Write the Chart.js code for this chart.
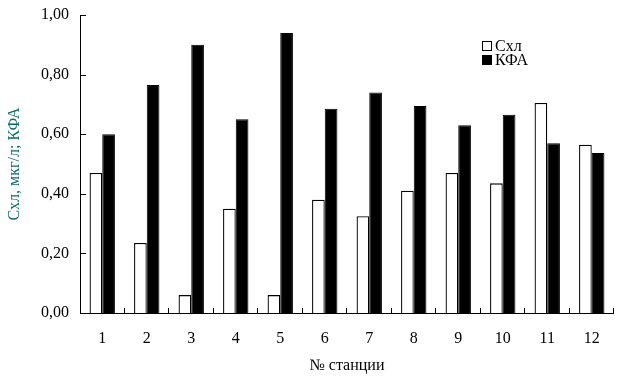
<!DOCTYPE html>
<html>
<head>
<meta charset="utf-8">
<script src="https://cdn.jsdelivr.net/npm/chart.js@4"></script>
<style>
  html, body { margin: 0; padding: 0; background: #fff; }
  #wrap { width: 621px; height: 380px; position: relative; }
</style>
</head>
<body>
<div id="wrap"><canvas id="chart" width="621" height="380"></canvas></div>
<script>
const stations = ['1', '2', '3', '4', '5', '6', '7', '8', '9', '10', '11', '12'];
const chl = [0.47, 0.235, 0.06, 0.35, 0.06, 0.38, 0.325, 0.41, 0.47, 0.435, 0.705, 0.565];
const kfa = [0.60, 0.765, 0.90, 0.65, 0.94, 0.685, 0.74, 0.695, 0.63, 0.665, 0.57, 0.537];
const yTicks = [0, 0.2, 0.4, 0.6, 0.8, 1.0];

const serif = "'Liberation Serif', 'Times New Roman', serif";

// small inward tick marks like in the original
const innerTicks = {
  id: 'innerTicks',
  afterDraw(chart) {
    const ctx = chart.ctx;
    const y = chart.scales.y;
    const area = chart.chartArea;
    ctx.save();
    ctx.strokeStyle = '#000';
    ctx.lineWidth = 1;
    ctx.beginPath();
    // axes
    ctx.moveTo(area.left + 0.5, area.top);
    ctx.lineTo(area.left + 0.5, area.bottom + 0.5);
    ctx.lineTo(area.right, area.bottom + 0.5);
    yTicks.forEach(v => {
      const py = Math.round(y.getPixelForValue(v)) + 0.5;
      ctx.moveTo(area.left, py);
      ctx.lineTo(area.left + 6, py);
    });
    const step = (area.right - area.left) / stations.length;
    for (let i = 1; i <= stations.length; i++) {
      const px = Math.round(area.left + step * i) - 0.5;
      ctx.moveTo(px, area.bottom);
      ctx.lineTo(px, area.bottom - 5);
    }
    ctx.stroke();
    ctx.restore();
  }
};

const boxLegend = {
  id: 'boxLegend',
  afterDraw(chart) {
    const ctx = chart.ctx;
    ctx.save();
    ctx.font = '16px ' + serif;
    ctx.textBaseline = 'alphabetic';
    chart.data.datasets.forEach((ds, i) => {
      const bx = 482, by = 41 + i * 14;
      ctx.fillStyle = ds.backgroundColor;
      ctx.fillRect(bx, by, 10, 10);
      ctx.strokeStyle = '#000';
      ctx.lineWidth = 1;
      ctx.strokeRect(bx + 0.5, by + 0.5, 9, 9);
      ctx.fillStyle = '#000';
      ctx.fillText(ds.label, bx + 13, by + 10);
    });
    ctx.restore();
  }
};

new Chart(document.getElementById('chart'), {
  type: 'bar',
  data: {
    labels: stations,
    datasets: [
      { label: 'Схл', data: chl, backgroundColor: '#fff', borderColor: '#000', borderWidth: 1.3 },
      { label: 'КФА', data: kfa, backgroundColor: '#000', borderColor: '#000', borderWidth: 1 }
    ]
  },
  options: {
    responsive: false,
    animation: false,
    layout: { padding: { top: 15, right: 7, left: 0, bottom: 0 } },
    datasets: { bar: { categoryPercentage: 0.57, barPercentage: 1.0 } },
    plugins: {
      legend: { display: false },
      tooltip: { enabled: false }
    },
    scales: {
      x: {
        offset: true,
        grid: { display: false },
        border: { display: false },
        ticks: { color: '#000', padding: 8, font: { family: serif, size: 16 } },
        title: { display: true, text: '№ станции', color: '#000', padding: { top: 0, bottom: 5 }, font: { family: serif, size: 16 } },
        afterFit(scale) { scale.height = 67; }
      },
      y: {
        min: 0,
        max: 1,
        grid: { display: false },
        border: { display: false },
        afterBuildTicks(scale) { scale.ticks = yTicks.map(v => ({ value: v })); },
        ticks: {
          color: '#000',
          padding: 3,
          font: { family: serif, size: 16 },
          callback: v => v.toFixed(2).replace('.', ',')
        },
        title: { display: true, text: 'Схл, мкг/л; КФА', color: '#0b6b6b', padding: { top: 5, bottom: 0 }, font: { family: serif, size: 16 } },
        afterFit(scale) { scale.width = 80; }
      }
    }
  },
  plugins: [innerTicks, boxLegend]
});
</script>
</body>
</html>
